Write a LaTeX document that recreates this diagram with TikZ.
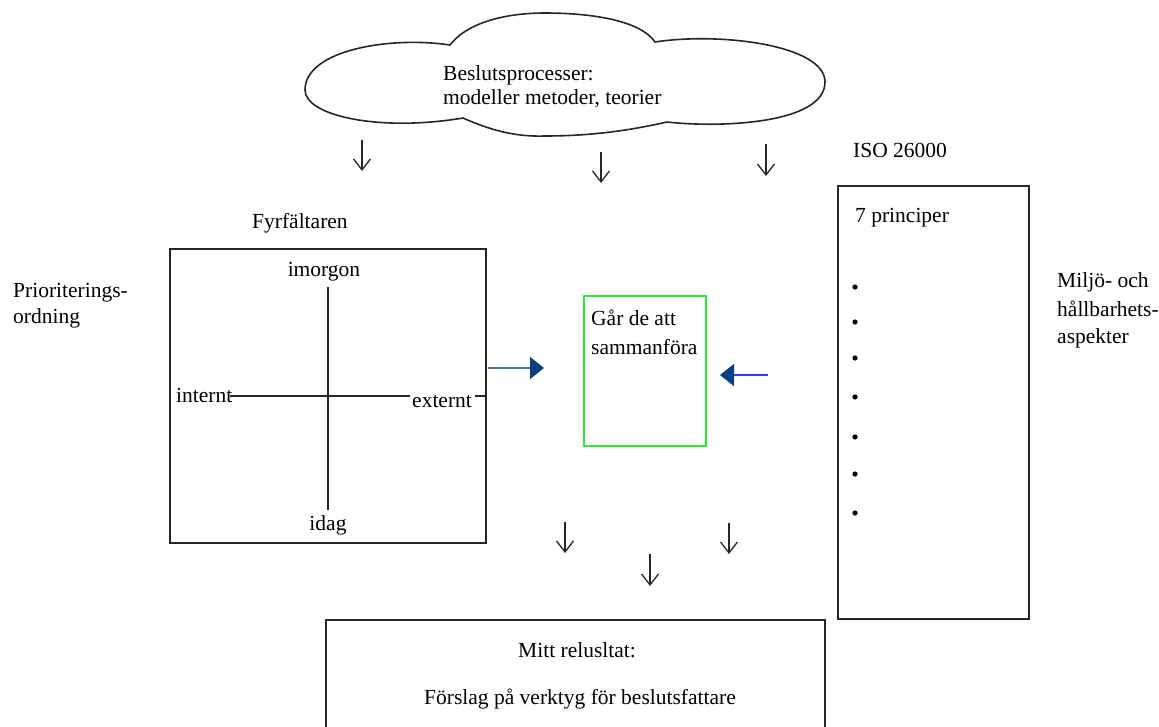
\documentclass[tikz,border=0pt]{standalone}
\usepackage{fontspec}
\setmainfont{Liberation Serif}
\usetikzlibrary{arrows.meta}
\definecolor{navyhead}{HTML}{0B3F85}
\definecolor{steelline}{HTML}{4A6FA5}
\definecolor{brightblue}{HTML}{3535FF}
\definecolor{samgreen}{HTML}{2EEA2E}
\begin{document}
\begin{tikzpicture}[x=1pt,y=-1pt,
  txt/.style={inner sep=0pt, font=\fontsize{21.5}{24}\selectfont},
  lab/.style={txt, anchor=base west},
  clab/.style={txt, anchor=base},
  frame/.style={draw=black!85, line width=1.8pt, inner sep=0pt, anchor=north west},
  downarrow/.style={-{Straight Barb[length=11pt,width=17pt,line width=1.3pt]}, line width=1.3pt, draw=black!85},
  bluearrow/.style={-{Triangle[length=14pt,width=22pt,fill=navyhead,color=navyhead]}, line width=1.6pt}
]
\useasboundingbox (0,0) rectangle (1159,726);

% cloud
\draw[line width=1.6pt, black!85] (450,45)
  .. controls (390,36) and (305,50) .. (305,90)
  .. controls (305,116) and (380,132) .. (463,118)
  .. controls (490,130) and (515,137) .. (545,136)
  .. controls (600,136) and (640,128) .. (667,122)
  .. controls (720,128) and (825,124) .. (825,82)
  .. controls (825,45) and (720,32) .. (655,42)
  .. controls (640,20) and (590,13) .. (545,13)
  .. controls (500,13) and (465,25) .. (450,45) -- cycle;
\node[lab] (cl1) at (443,80) {Beslutsprocesser:};
\node[lab] (cl2) at (443,104) {modeller metoder, teorier};

% arrows from cloud
\coordinate (a1s) at (362,140); \coordinate (a1e) at (362,171);
\coordinate (a2s) at (601,152); \coordinate (a2e) at (601,183);
\coordinate (a3s) at (766,144); \coordinate (a3e) at (766,176);
\draw[downarrow] (a1s) -- (a1e);
\draw[downarrow] (a2s) -- (a2e);
\draw[downarrow] (a3s) -- (a3e);

% labels
\node[lab] (iso) at (853,157) {ISO 26000};
\node[lab] (fyrt) at (252,228) {Fyrfältaren};
\node[lab] (prio1) at (13,297) {Prioriterings-};
\node[lab] (prio2) at (13,323) {ordning};

% Fyrfaltaren box
\node[frame, minimum width=316pt, minimum height=294pt] (fyr) at (169,248) {};
\node[clab] (imorgon) at (324,276) {imorgon};
\node[clab] (idag) at (328,530) {idag};
\node[lab] (internt) at (176,402) {internt};
\node[lab] (externt) at (412,407) {externt};
\coordinate (vtop) at (328,287); \coordinate (vbot) at (328,510);
\coordinate (hl1) at (230,396); \coordinate (hl2) at (410,396);
\coordinate (hl3) at (475,396); \coordinate (hl4) at (485,396);
\draw[line width=1.6pt, black!85] (vtop) -- (vbot);
\draw[line width=1.6pt, black!85] (hl1) -- (hl2);
\draw[line width=1.6pt, black!85] (hl3) -- (hl4);

% green box
\node[draw=samgreen, line width=2pt, inner sep=0pt, anchor=north west, minimum width=122pt, minimum height=150pt] (sam) at (583,295) {};
\node[lab] (sam1) at (591,325) {Går de att};
\node[lab] (sam2) at (591,354) {sammanföra};

% blue arrows
\coordinate (b1s) at (488,368); \coordinate (b1e) at (544,368);
\coordinate (b2s) at (768,375); \coordinate (b2e) at (720,375);
\draw[bluearrow, draw=steelline] (b1s) -- (b1e);
\draw[bluearrow, draw=brightblue] (b2s) -- (b2e);

% ISO box
\node[frame, minimum width=191pt, minimum height=433pt] (isobox) at (837,185) {};
\node[lab] (princ) at (855,222) {7 principer};
\foreach \yy in {287,322,358,397,437,474,513}
  \fill[black] (855,\yy) circle (2.6pt);
\node[lab] (mil1) at (1057,287) {Miljö- och};
\node[lab] (mil2) at (1057,316) {hållbarhets-};
\node[lab] (mil3) at (1057,343) {aspekter};

% lower arrows
\coordinate (c1s) at (565,522); \coordinate (c1e) at (565,553);
\coordinate (c2s) at (729,523); \coordinate (c2e) at (729,554);
\coordinate (c3s) at (650,554); \coordinate (c3e) at (650,586);
\draw[downarrow] (c1s) -- (c1e);
\draw[downarrow] (c2s) -- (c2e);
\draw[downarrow] (c3s) -- (c3e);

% result box
\node[frame, minimum width=499pt, minimum height=140pt] (res) at (325,619) {};
\node[clab] (res1) at (577,657) {Mitt relusltat:};
\node[clab] (res2) at (580,704) {Förslag på verktyg för beslutsfattare};
\end{tikzpicture}
\end{document}
